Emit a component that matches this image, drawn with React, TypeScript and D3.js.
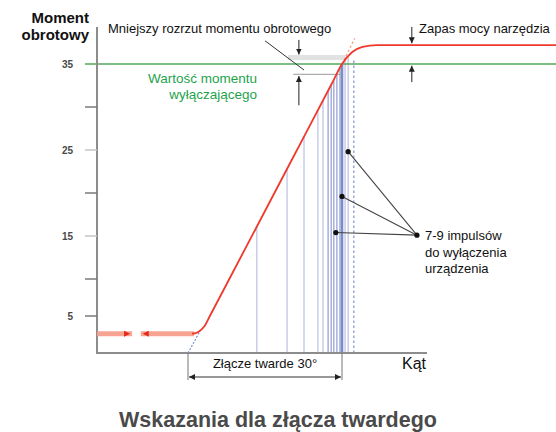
import React from 'react';
import * as d3 from 'd3';

// torque axis
const labelTicks = [35, 25, 15, 5];
const minorTicks = [30, 20, 10];

// torque curve (angle in degrees from snug point, torque)
const curveAngle = [0.8, 2.0, 3.2, 4.26, 8.05, 20, 28, 30, 32, 34, 36.8, 72];
const curveTorque = [2.6, 2.85, 3.6, 5, 10, 23.6, 32.7, 35, 36.4, 37, 37.2, 37.2];

// free-run part before snug point
const freeRunAngle = [-17.7, 0.8];
const freeRunTorque = 2.6;
const freeRunGap = [-10.9, -9.2];

// impulse positions
const impulseAngle = [13.4, 19.3, 22.6, 25.3, 26.3, 27.3, 27.9, 28.4, 29.0, 29.6, 30.0, 30.6, 31.2];
const impulseWeight = [1, 1, 1, 1, 1, 2, 2, 2, 2, 2, 3, 1, 1];
const lastImpulseAngle = 32.3;

// impulse markers pointed at by the note
const markerAngle = [31.2, 30.0, 28.8];
const markerTorque = [24.8, 19.6, 15.4];
const noteTarget = [44.6, 15.1];

const shutoffTorque = 35;
const spreadBand = [35.45, 36.05];
const spreadLow = 33.8;

const FONT = '"Liberation Sans", Arial, Helvetica, sans-serif';

export default function App() {
  const x = d3.scaleLinear().domain([0, 30]).range([188, 342]);
  const y = d3.scaleLinear().domain([0, 5, 10, 40]).range([353, 316, 279, 21]);

  const curveY = d3.scaleLinear()
    .domain(curveAngle.map(a => x(a)))
    .range(curveTorque.map(t => y(t)));

  const line = d3.line<[number, number]>()
    .x(d => x(d[0]))
    .y(d => y(d[1]))
    .curve(d3.curveMonotoneX);
  const curvePts = curveAngle.map((a, i) => [a, curveTorque[i]] as [number, number]);

  const x0 = 97;
  const axisY = y(0);
  const impulseColor = ['', '#c9cde8', '#a6afdc', '#7d8bc9'];
  const impulseWidth = [0, 1.5, 1.5, 2.6];

  return (
    <svg width={556} height={432} style={{ position: 'absolute', left: 0, top: 0, fontFamily: FONT }}>
      <defs>
        <marker id="ah" viewBox="0 0 10 10" refX="10" refY="5" markerWidth="6" markerHeight="6"
          markerUnits="userSpaceOnUse" orient="auto">
          <path d="M0,0 L10,5 L0,10 z" fill="#222" />
        </marker>
      </defs>

      {/* impulse lines */}
      {impulseAngle.map((a, i) => (
        <line key={i} x1={x(a)} x2={x(a)} y1={axisY} y2={curveY(x(a))}
          stroke={impulseColor[impulseWeight[i]]} strokeWidth={impulseWidth[impulseWeight[i]]} />
      ))}
      <line x1={x(lastImpulseAngle)} x2={x(lastImpulseAngle)} y1={axisY} y2={y(spreadBand[0])}
        stroke="#8a98d2" strokeWidth={1.3} strokeDasharray="2.5,2.5" />

      {/* spread band */}
      <rect x={x(19.5)} width={x(30.7) - x(19.5)} y={y(spreadBand[1])} height={y(spreadBand[0]) - y(spreadBand[1])}
        fill="#e2e2e2" />
      <line x1={x(20.5)} x2={x(29.7)} y1={y(spreadLow)} y2={y(spreadLow)} stroke="#9a9a9a" strokeWidth={1} />

      {/* shut-off torque line */}
      <line x1={85} x2={556} y1={y(shutoffTorque)} y2={y(shutoffTorque)} stroke="#55a85a" strokeWidth={1.6} />

      {/* axes */}
      <line x1={x0} x2={x0} y1={27} y2={axisY + 1} stroke="#8c8c8c" strokeWidth={2} />
      <line x1={x0} x2={427} y1={axisY} y2={axisY} stroke="#8c8c8c" strokeWidth={2} />
      {minorTicks.map(t => (
        <line key={t} x1={85} x2={x0} y1={y(t)} y2={y(t)} stroke="#7a7a7a" strokeWidth={1.5} />
      ))}
      {labelTicks.map(t => (
        <g key={t}>
          {t !== shutoffTorque && (
            <line x1={85} x2={x0} y1={y(t)} y2={y(t)} stroke={t === 5 ? '#7a7a7a' : '#c4c4c4'} strokeWidth={1.5} />
          )}
          <text x={73} y={y(t) + 4} textAnchor="end" fontSize={10} fontWeight="bold" fill="#4a4a4a">{t}</text>
        </g>
      ))}

      {/* extrapolations */}
      <line x1={x(0)} y1={y(0)} x2={x(2.6)} y2={y(3.3)} stroke="#7f8fd6" strokeWidth={1.2} strokeDasharray="2,1.5" />
      <line x1={x(30)} y1={y(35)} x2={x(32.5)} y2={y(38)} stroke="#f3a79a" strokeWidth={1.3} strokeDasharray="2.5,2" />

      {/* free run */}
      <line x1={x(freeRunAngle[0])} x2={x(freeRunGap[0])} y1={y(freeRunTorque)} y2={y(freeRunTorque)}
        stroke="#f6a391" strokeWidth={5} />
      <line x1={x(freeRunGap[1])} x2={x(freeRunAngle[1]) + 2} y1={y(freeRunTorque)} y2={y(freeRunTorque)}
        stroke="#f6a391" strokeWidth={5} />
      <path d={`M${x(freeRunGap[0]) - 8},${y(freeRunTorque) - 3} L${x(freeRunGap[0]) - 2},${y(freeRunTorque)} L${x(freeRunGap[0]) - 8},${y(freeRunTorque) + 3} z`}
        fill="#e8261c" />
      <path d={`M${x(freeRunGap[1]) + 8},${y(freeRunTorque) - 3} L${x(freeRunGap[1]) + 2},${y(freeRunTorque)} L${x(freeRunGap[1]) + 8},${y(freeRunTorque) + 3} z`}
        fill="#e8261c" />

      {/* torque curve */}
      <path d={line(curvePts) ?? ''} fill="none" stroke="#ee3a2c" strokeWidth={1.8} />

      {/* spread arrows */}
      <line x1={x(21.6)} x2={x(21.6)} y1={y(37.8)} y2={y(36.1)} stroke="#222" strokeWidth={1} markerEnd="url(#ah)" />
      <line x1={x(21.6)} x2={x(21.6)} y1={y(30.2)} y2={y(33.6)} stroke="#222" strokeWidth={1} markerEnd="url(#ah)" />
      <line x1={x(15.0)} y1={y(37.7)} x2={x(22.6)} y2={y(34.3)} stroke="#333" strokeWidth={1} />

      {/* reserve arrows */}
      <line x1={x(43.6)} x2={x(43.6)} y1={y(39.3)} y2={y(37.4)} stroke="#222" strokeWidth={1} markerEnd="url(#ah)" />
      <line x1={x(43.6)} x2={x(43.6)} y1={y(32.9)} y2={y(34.8)} stroke="#222" strokeWidth={1} markerEnd="url(#ah)" />

      {/* impulse note */}
      {markerAngle.map((a, i) => (
        <g key={i}>
          <line x1={x(a)} y1={y(markerTorque[i])} x2={x(noteTarget[0])} y2={y(noteTarget[1])} stroke="#444" strokeWidth={1.1} />
          <circle cx={x(a)} cy={y(markerTorque[i])} r={2.6} fill="#111" />
        </g>
      ))}
      <circle cx={x(noteTarget[0])} cy={y(noteTarget[1])} r={2.6} fill="#111" />
      <text x={425} fontSize={13} fill="#111">
        <tspan x={425} y={240}>7-9 impulsów</tspan>
        <tspan x={425} y={257}>do wyłączenia</tspan>
        <tspan x={425} y={273}>urządzenia</tspan>
      </text>

      {/* joint bracket */}
      <line x1={x(0)} x2={x(0)} y1={axisY} y2={380} stroke="#777" strokeWidth={1} />
      <line x1={x(30)} x2={x(30)} y1={axisY} y2={380} stroke="#777" strokeWidth={1} />
      <line x1={(x(0) + x(30)) / 2} x2={x(0) + 1} y1={377} y2={377} stroke="#333" strokeWidth={1} markerEnd="url(#ah)" />
      <line x1={(x(0) + x(30)) / 2} x2={x(30) - 1} y1={377} y2={377} stroke="#333" strokeWidth={1} markerEnd="url(#ah)" />
      <text x={(x(0) + x(30)) / 2} y={368} textAnchor="middle" fontSize={13} fill="#111">Złącze twarde 30°</text>

      {/* labels */}
      <text x={89} textAnchor="end" fontSize={15} fontWeight="bold" fill="#111">
        <tspan x={89} y={23}>Moment</tspan>
        <tspan x={89} y={40}>obrotowy</tspan>
      </text>
      <text x={108} y={33} fontSize={13} fill="#111">Mniejszy rozrzut momentu obrotowego</text>
      <text x={419} y={33} fontSize={13} fill="#111">Zapas mocy narzędzia</text>
      <text x={257} textAnchor="end" fontSize={13.5} fill="#1ea34c">
        <tspan x={257} y={83}>Wartość momentu</tspan>
        <tspan x={257} y={99}>wyłączającego</tspan>
      </text>
      <text x={402} y={369} fontSize={16} fill="#111">Kąt</text>
      <text x={278} y={427} textAnchor="middle" fontSize={21.5} fontWeight="bold" fill="#4a4a4a">
        Wskazania dla złącza twardego
      </text>
    </svg>
  );
}
